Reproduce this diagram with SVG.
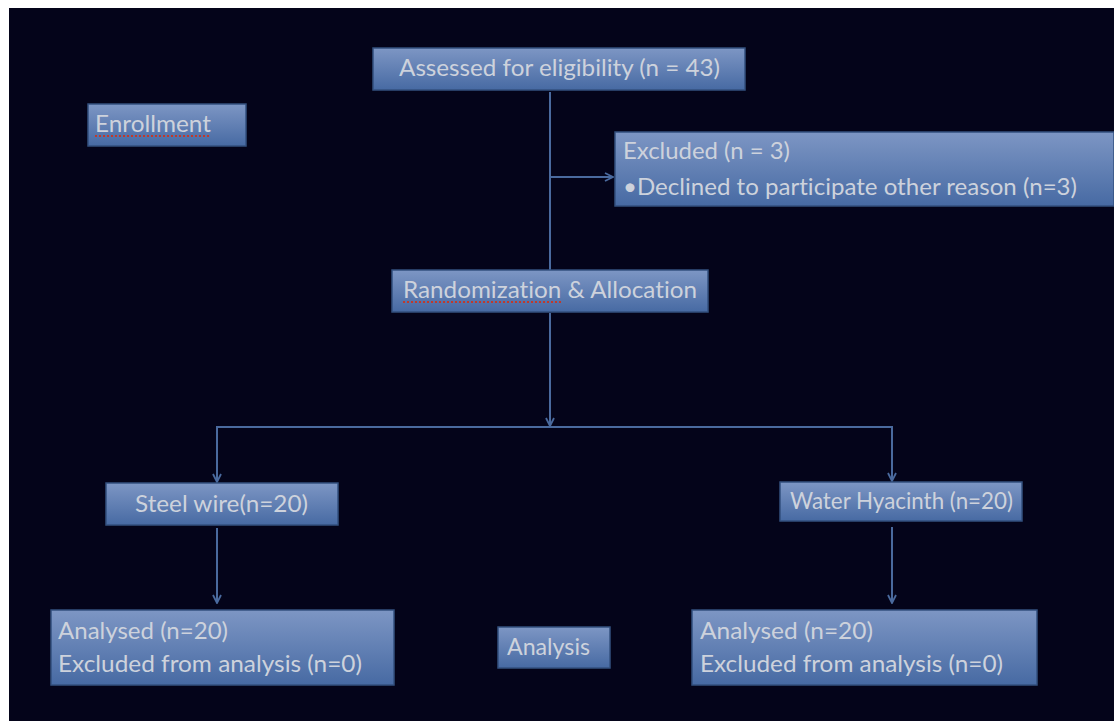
<svg xmlns="http://www.w3.org/2000/svg" width="1114" height="721" viewBox="0 0 1114 721">
<defs>
<linearGradient id="boxg" x1="0" y1="0" x2="0" y2="1">
<stop offset="0" stop-color="#7d96c4"/>
<stop offset="1" stop-color="#476aa3"/>
</linearGradient>
<marker id="arr" viewBox="0 0 10 10" refX="9" refY="5" markerWidth="10" markerHeight="10" markerUnits="userSpaceOnUse" orient="auto">
<path d="M1,1 L9,5 L1,9" fill="none" stroke="#4a6a9e" stroke-width="1.8"/>
</marker>
<style>
.box{fill:url(#boxg);stroke:#33507f;stroke-width:1.5}
.t{font-family:Lato,"Open Sans","Liberation Sans",sans-serif;font-size:24px;fill:#cdd2dc;font-variant-ligatures:none}
.c{fill:none;stroke:#4a6a9e;stroke-width:2}
.sp{stroke:#c0392b;stroke-width:2;stroke-dasharray:2 2;fill:none}
</style>
</defs>
<rect x="0" y="0" width="1114" height="721" fill="#ffffff"/>
<rect x="9" y="8" width="1105" height="713" fill="#04041a"/>

<g id="connectors">
<line class="c" x1="550" y1="92" x2="550" y2="270"/>
<line class="c" x1="550" y1="177" x2="613" y2="177" marker-end="url(#arr)"/>
<line class="c" x1="550" y1="313" x2="550" y2="426" marker-end="url(#arr)"/>
<polyline class="c" points="217,482 217,427 892,427 892,481"/>
<line class="c" x1="217" y1="470" x2="217" y2="482" marker-end="url(#arr)"/>
<line class="c" x1="892" y1="470" x2="892" y2="481" marker-end="url(#arr)"/>
<line class="c" x1="217" y1="528" x2="217" y2="603" marker-end="url(#arr)"/>
<line class="c" x1="892" y1="527" x2="892" y2="603" marker-end="url(#arr)"/>
</g>

<g id="enrollment">
<rect class="box" x="88" y="104" width="158" height="42"/>
<text class="t" x="95" y="132" textLength="116" lengthAdjust="spacingAndGlyphs">Enrollment</text>
<line class="sp" x1="95" y1="136" x2="211" y2="136"/>
</g>

<g id="assessed">
<rect class="box" x="373" y="48" width="372" height="42"/>
<text class="t" x="399" y="76" textLength="321" lengthAdjust="spacingAndGlyphs">Assessed for eligibility (n = 43)</text>
</g>

<g id="excluded">
<rect class="box" x="615" y="132" width="499" height="74"/>
<text class="t" x="623" y="159" textLength="167" lengthAdjust="spacingAndGlyphs">Excluded (n = 3)</text>
<text class="t" x="623" y="195" textLength="454" lengthAdjust="spacingAndGlyphs">•Declined to participate other reason (n=3)</text>
</g>

<g id="randomization">
<rect class="box" x="392" y="270" width="316" height="42"/>
<text class="t" x="403" y="298" textLength="294" lengthAdjust="spacingAndGlyphs">Randomization &amp; Allocation</text>
<line class="sp" x1="403" y1="302" x2="563" y2="302"/>
</g>

<g id="steel">
<rect class="box" x="106" y="483" width="232" height="42"/>
<text class="t" x="135" y="512" textLength="173" lengthAdjust="spacingAndGlyphs">Steel wire(n=20)</text>
</g>

<g id="hyacinth">
<rect class="box" x="780" y="482" width="242" height="39"/>
<text class="t" x="790" y="509" textLength="223" lengthAdjust="spacingAndGlyphs">Water Hyacinth (n=20)</text>
</g>

<g id="analysed-left">
<rect class="box" x="51" y="610" width="343" height="75"/>
<text class="t" x="58" y="639" textLength="170" lengthAdjust="spacingAndGlyphs">Analysed (n=20)</text>
<text class="t" x="58" y="672" textLength="304" lengthAdjust="spacingAndGlyphs">Excluded from analysis (n=0)</text>
</g>

<g id="analysis">
<rect class="box" x="498" y="627" width="112" height="41"/>
<text class="t" x="507" y="655" textLength="83" lengthAdjust="spacingAndGlyphs">Analysis</text>
</g>

<g id="analysed-right">
<rect class="box" x="692" y="610" width="345" height="75"/>
<text class="t" x="700" y="639" textLength="173" lengthAdjust="spacingAndGlyphs">Analysed (n=20)</text>
<text class="t" x="700" y="672" textLength="303" lengthAdjust="spacingAndGlyphs">Excluded from analysis (n=0)</text>
</g>
</svg>
